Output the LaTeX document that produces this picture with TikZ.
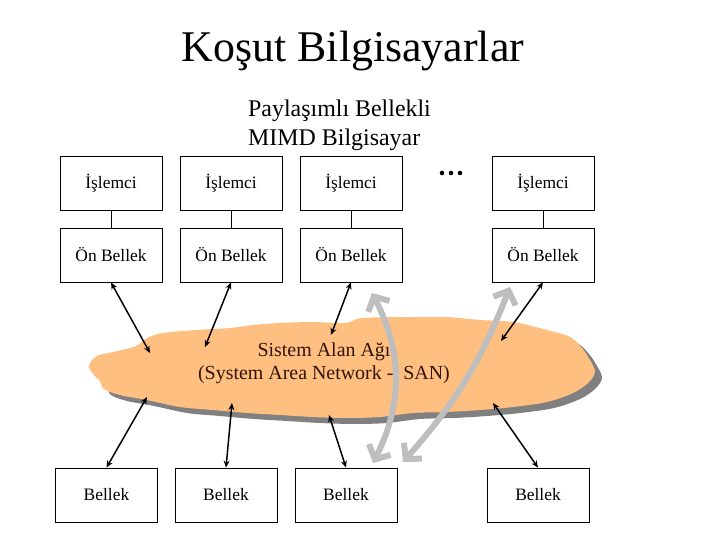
\documentclass[tikz,border=0pt]{standalone}
\usepackage{fontspec}
\setmainfont{Liberation Serif}
\usetikzlibrary{arrows.meta}
\definecolor{cloudfill}{RGB}{255,191,128}
\definecolor{cloudshadow}{RGB}{128,128,128}
\definecolor{bigarrow}{RGB}{190,190,190}
\definecolor{cloudtext}{RGB}{50,20,10}
\tikzset{
  box/.style={draw=black, line width=0.8bp, minimum width=102bp, minimum height=54bp, inner sep=0pt, font=\fontsize{17.5}{20}\selectfont},
  link/.style={line width=0.8bp},
  blackarrow/.style={line width=1.5bp, {Stealth[length=7bp,width=6bp]}-{Stealth[length=7bp,width=6bp]}},
  grayarrow/.style={line width=6bp, draw=bigarrow, {Straight Barb[length=11bp,width=24bp]}-{Straight Barb[length=11bp,width=24bp]}},
}
\begin{document}
\begin{tikzpicture}[x=1bp, y=-1bp]
\useasboundingbox (0,0) rectangle (720,540);

% title
\node (title) at (353,51) {\fontsize{44}{50}\selectfont Koşut Bilgisayarlar};
\node[anchor=north west, align=left, inner sep=0pt, font=\fontsize{24}{29}\selectfont] (sub) at (248,100) {Paylaşımlı Bellekli\\MIMD Bilgisayar};

% dots
\fill (442,173) circle (2.3bp);
\fill (451,173) circle (2.3bp);
\fill (460,173) circle (2.3bp);

% processor boxes
\node[box] (p1) at (111,183.5) {İşlemci};
\node[box] (p2) at (231,183.5) {İşlemci};
\node[box] (p3) at (351,183.5) {İşlemci};
\node[box] (p4) at (543,183.5) {İşlemci};
\node[box] (c1) at (111,255) {Ön Bellek};
\node[box] (c2) at (231,255) {Ön Bellek};
\node[box] (c3) at (351,255) {Ön Bellek};
\node[box] (c4) at (543,255) {Ön Bellek};
\node[box] (m1) at (106.5,495) {Bellek};
\node[box] (m2) at (226,495) {Bellek};
\node[box] (m3) at (346,495) {Bellek};
\node[box] (m4) at (538,495) {Bellek};

\foreach \i in {1,2,3,4} \draw[link] (p\i.south) -- (c\i.north);

% cloud
\def\cloudpath{plot[smooth cycle, tension=0.55] coordinates {
 (89,366) (97,356) (118,351) (136,346) (147,338) (163,333) (197,330)
 (230,328) (253,325) (280,323) (313,322) (345,323) (363,318) (413,317)
 (447,317) (480,320) (513,322) (547,330) (570,337) (582,348) (590,360)
 (595,372) (588,383) (573,393) (547,402) (513,407) (480,410) (447,412)
 (413,413) (380,417) (347,418) (313,417) (280,415) (247,413) (213,410)
 (180,407) (147,400) (120,395) (104,389) (100,381) (94,375)}}
\fill[cloudshadow, shift={(7,6)}] \cloudpath;
\fill[cloudfill] \cloudpath;

\node[text=cloudtext, align=center, font=\fontsize{20}{23}\selectfont] (san) at (324,363) {Sistem Alan Ağı\\(System Area Network -\ \ SAN)};

% cloud attachment points
\coordinate (u1) at (150,353);
\coordinate (u2) at (205,347);
\coordinate (u3) at (331,335);
\coordinate (u4) at (501,341);
\coordinate (l1) at (147,397);
\coordinate (l2) at (232,403);
\coordinate (l3) at (329,415);
\coordinate (l4) at (493,403);

\draw[blackarrow] (c1.south) -- (u1);
\draw[blackarrow] (c2.south) -- (u2);
\draw[blackarrow] (c3.south) -- (u3);
\draw[blackarrow] (c4.south) -- (u4);
\draw[blackarrow] (m1.north) -- (l1);
\draw[blackarrow] (m2.north) -- (l2);
\draw[blackarrow] (m3.north) -- (l3);
\draw[blackarrow] (m4.north) -- (l4);

% big gray arrows
\coordinate (g1a) at (372,293);
\coordinate (g1b) at (373,463);
\coordinate (g2a) at (510,287);
\coordinate (g2b) at (403,462);
\draw[grayarrow] (g1a) to[bend left=27] (g1b);
\draw[grayarrow] (g2a) to[bend left=10] (g2b);
\end{tikzpicture}
\end{document}
